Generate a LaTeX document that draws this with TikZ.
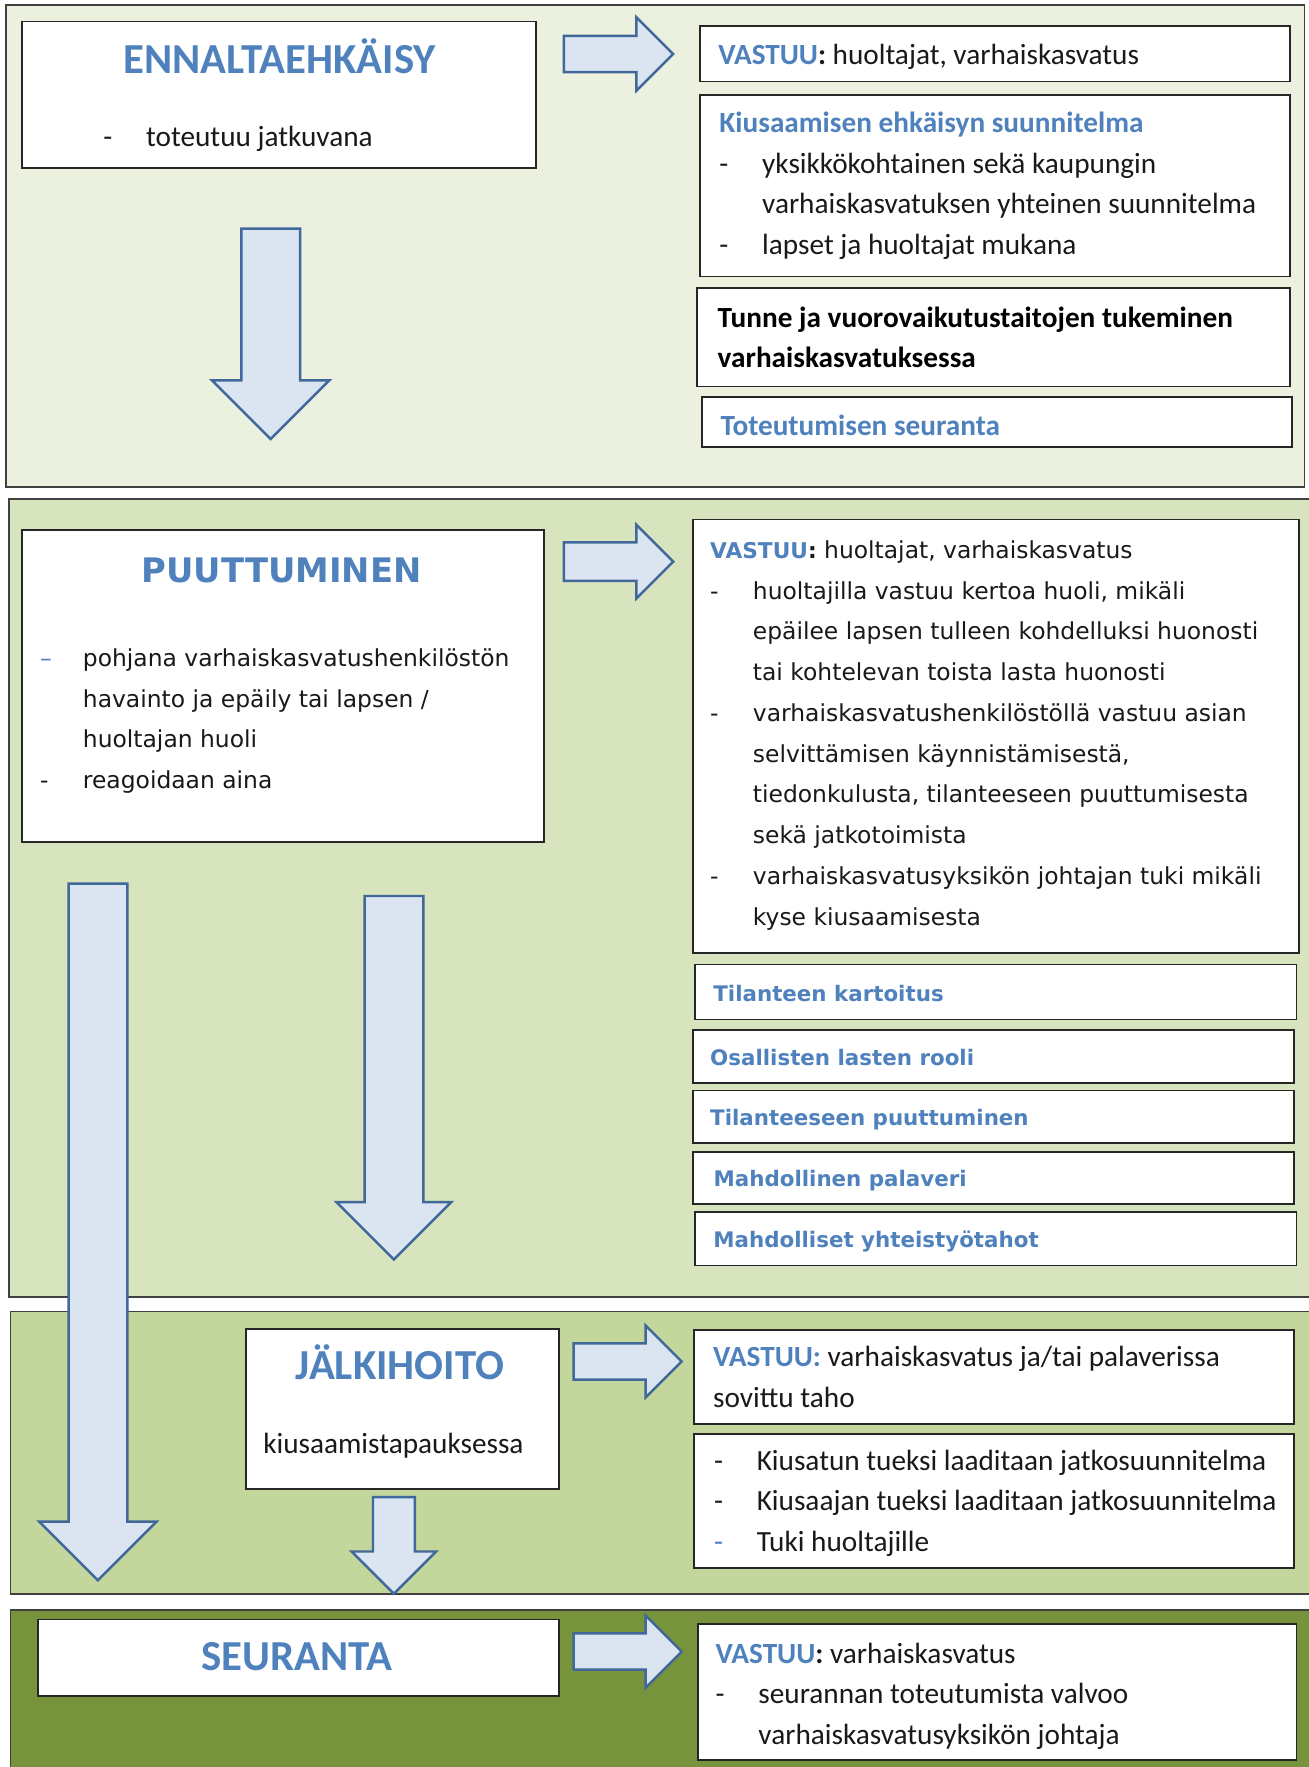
\documentclass[tikz,border=0pt]{standalone}
\usepackage{fontspec}
\setmainfont{Carlito}
\newfontfamily\verd{DejaVu Sans}
\usepackage{xcolor}
\usetikzlibrary{shapes.arrows, positioning}

\definecolor{blu}{HTML}{4F81BD}
\definecolor{secA}{HTML}{EBF1DE}
\definecolor{secB}{HTML}{D7E4BD}
\definecolor{secC}{HTML}{C3D69B}
\definecolor{secD}{HTML}{77933C}
\definecolor{arrfill}{HTML}{DBE5F1}
\definecolor{arrline}{HTML}{41689A}

\newcommand{\calb}{\fontsize{26}{36}\selectfont}
\newcommand{\verdb}{\verd\fontsize{20.8}{36.2}\selectfont}
\newcommand{\itm}[1][-]{\makebox[38pt][l]{#1}}
\newcommand{\ind}{\hspace*{38pt}}
\newcommand{\vst}{\textbf{\textcolor{blu}{VASTUU}:}}
\newcommand{\vstv}{{\fontsize{19.3}{36.2}\selectfont\textbf{\textcolor{blu}{VASTUU}:}}}
\newcommand{\vbh}[1]{{\fontsize{19}{24}\selectfont\bfseries\color{blu}#1}}

\tikzset{
    sect/.style={draw=black!75, line width=1.6pt},
    frame/.style={draw=black!85, line width=1.5pt, fill=white, anchor=north west, inner sep=0pt, outer sep=0pt},
    txt/.style={anchor=west, align=left, inner sep=0pt, text=black!90, font=\calb},
    txtv/.style={txt, font=\verdb},
    ttl/.style={anchor=base, inner sep=0pt, text=blu, font=\fontsize{38}{40}\selectfont\bfseries},
    ttlv/.style={ttl, font=\verd\fontsize{30}{32}\selectfont\bfseries},
    barrow/.style n args={3}{single arrow, draw=arrline, fill=arrfill, line width=2.2pt,
        inner xsep=0pt, inner ysep=#1, single arrow head extend=#2, minimum height=#3,
        single arrow tip angle=90, anchor=tail}
}

\begin{document}
\begin{tikzpicture}[x=1pt, y=-1pt]
    \useasboundingbox (0,0) rectangle (1163,1570);

    \draw[sect, fill=secA] (5.6,4.4) rectangle (1159,432.5);
    \draw[sect, fill=secB] (8.2,443.6) rectangle (1175,1152.6);
    \draw[sect, fill=secC] (9.3,1165.3) rectangle (1175,1416.1);
    \draw[sect, fill=secD] (9.3,1430.4) rectangle (1175,1580);

    % ennaltaehkaisy
    \node[frame, minimum width=457pt, minimum height=130pt] (enn) at (19.4,19.2) {};
    \node[ttl] (ennh) at (248.5,65) {ENNALTAEHKÄISY};
    \node[anchor=base west, inner sep=0pt, text=black!90, font=\calb] (ennt) at (91.6,130) {\itm toteutuu jatkuvana};

    \node[frame, minimum width=524pt, minimum height=49.5pt] (va) at (622,23) {};
    \node[txt] (vat) at ([xshift=16pt, yshift=-3pt]va.west) {\vst{} huoltajat, varhaiskasvatus};

    \node[frame, minimum width=524pt, minimum height=161.4pt] (kius) at (622,84.4) {};
    \node[txt] (kiust) at ([xshift=17pt]kius.west) {\textbf{\textcolor{blu}{Kiusaamisen ehkäisyn suunnitelma}}\\
        \itm yksikkökohtainen sekä kaupungin\\
        \ind varhaiskasvatuksen yhteinen suunnitelma\\
        \itm lapset ja huoltajat mukana};

    \node[frame, minimum width=526.5pt, minimum height=87.5pt] (tunne) at (619.5,256) {};
    \node[txt, font=\calb\bfseries, text=black] (tunnet) at ([xshift=18pt]tunne.west) {Tunne ja vuorovaikutustaitojen tukeminen\\varhaiskasvatuksessa};

    \node[frame, minimum width=524pt, minimum height=44pt] (tot) at (624,353) {};
    \node[txt] (tott) at ([xshift=16pt, yshift=-3pt]tot.west) {\textbf{\textcolor{blu}{Toteutumisen seuranta}}};

    % puuttuminen
    \node[frame, minimum width=463.8pt, minimum height=277.3pt] (puu) at (19.4,470.7) {};
    \node[ttlv] (puuh) at (250.2,517.8) {PUUTTUMINEN};
    \node[anchor=base west, align=left, inner sep=0pt, text=black!90, font=\verdb] (puut) at (35.5,700.6) {\itm[\textcolor{blu}{–}]pohjana varhaiskasvatushenkilöstön\\
        \ind havainto ja epäily tai lapsen /\\
        \ind huoltajan huoli\\
        \itm reagoidaan aina};

    \node[frame, minimum width=538.6pt, minimum height=385.4pt] (vb) at (615.8,461.6) {};
    \node[txtv] (vbt) at ([xshift=15pt, yshift=1pt]vb.west) {\vstv{} huoltajat, varhaiskasvatus\\
        \itm huoltajilla vastuu kertoa huoli, mikäli\\
        \ind epäilee lapsen tulleen kohdelluksi huonosti\\
        \ind tai kohtelevan toista lasta huonosti\\
        \itm varhaiskasvatushenkilöstöllä vastuu asian\\
        \ind selvittämisen käynnistämisestä,\\
        \ind tiedonkulusta, tilanteeseen puuttumisesta\\
        \ind sekä jatkotoimista\\
        \itm varhaiskasvatusyksikön johtajan tuki mikäli\\
        \ind kyse kiusaamisesta};

    \node[frame, minimum width=534.4pt, minimum height=49pt] (tk) at (617.6,856.9) {};
    \node[txtv] (tkt) at ([xshift=16pt, yshift=-1pt]tk.west) {\vbh{Tilanteen kartoitus}};
    \node[frame, minimum width=533.8pt, minimum height=47.6pt] (os) at (615.8,914.9) {};
    \node[txtv] (ost) at ([xshift=15pt, yshift=-1pt]os.west) {\vbh{Osallisten lasten rooli}};
    \node[frame, minimum width=533.8pt, minimum height=46.7pt] (tp) at (615.8,968.8) {};
    \node[txtv] (tpt) at ([xshift=15pt, yshift=-3pt]tp.west) {\vbh{Tilanteeseen puuttuminen}};
    \node[frame, minimum width=533.8pt, minimum height=46.3pt] (mp) at (615.8,1023.7) {};
    \node[txtv] (mpt) at ([xshift=18pt, yshift=-2pt]mp.west) {\vbh{Mahdollinen palaveri}};
    \node[frame, minimum width=534.4pt, minimum height=47.6pt] (my) at (617.6,1076.7) {};
    \node[txtv] (myt) at ([xshift=16pt, yshift=-3pt]my.west) {\vbh{Mahdolliset yhteistyötahot}};

    % jalkihoito
    \node[frame, minimum width=277.8pt, minimum height=142.2pt] (jal) at (218.8,1181) {};
    \node[ttl] (jalh) at (355.3,1226) {JÄLKIHOITO};
    \node[anchor=base west, inner sep=0pt, text=black!90, font=\calb] (jalt) at (233.7,1291.2) {kiusaamistapauksessa};

    \node[frame, minimum width=533.1pt, minimum height=83.4pt] (vc) at (616.5,1181.6) {};
    \node[txt] (vct) at ([xshift=17pt]vc.west) {\textbf{\textcolor{blu}{VASTUU:}} varhaiskasvatus ja/tai palaverissa\\sovittu taho};

    \node[frame, minimum width=533.1pt, minimum height=119.3pt] (jk) at (616.5,1274) {};
    \node[txt] (jkt) at ([xshift=17.7pt, yshift=-2pt]jk.west) {\itm Kiusatun tueksi laaditaan jatkosuunnitelma\\
        \itm Kiusaajan tueksi laaditaan jatkosuunnitelma\\
        \itm[\textcolor{blu}{-}]Tuki huoltajille};

    % seuranta
    \node[frame, minimum width=462.9pt, minimum height=67.8pt] (seu) at (33.7,1439) {};
    \node[ttl] (seuh) at (263.6,1484) {SEURANTA};

    \node[frame, minimum width=531.6pt, minimum height=120.8pt] (vd) at (620.2,1442.8) {};
    \node[txt] (vdt) at ([xshift=15.5pt, yshift=-4pt]vd.west) {\vst{} varhaiskasvatus\\
        \itm seurannan toteutumista valvoo\\
        \ind varhaiskasvatusyksikön johtaja};

    % block arrows
    \node[barrow={15pt}{16.5pt}{97pt}] (ar1) at (500,48) {};
    \node[barrow={16pt}{15.5pt}{97pt}] (ar2) at (500,499) {};
    \node[barrow={15pt}{16pt}{96pt}] (ar3) at (508.6,1209.7) {};
    \node[barrow={15pt}{16pt}{96pt}] (ar4) at (508.6,1467.4) {};
    \node[barrow={25pt}{26pt}{187pt}, rotate=-90] (dn1) at (240.5,202) {};
    \node[barrow={25pt}{26pt}{619pt}, rotate=-90] (dnl) at (87,784) {};
    \node[barrow={25pt}{25pt}{323pt}, rotate=-90] (dnm) at (350,795) {};
    \node[barrow={17.5pt}{19pt}{86pt}, rotate=-90] (dns) at (350,1329) {};
\end{tikzpicture}
\end{document}
